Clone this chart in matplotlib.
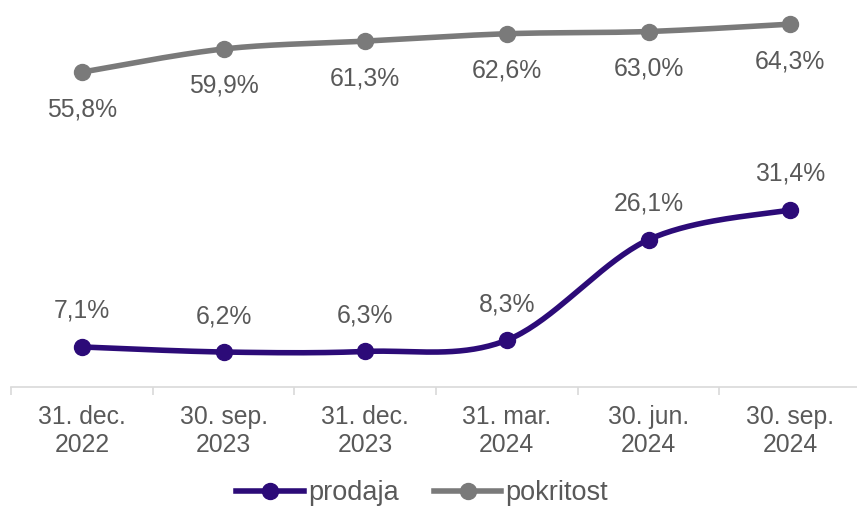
import numpy as np
import matplotlib
matplotlib.use("Agg")
import matplotlib.pyplot as plt
from matplotlib.lines import Line2D

plt.rcParams['font.family'] = ['Liberation Sans', 'DejaVu Sans']

categories = ["31. dec.\n2022", "30. sep.\n2023", "31. dec.\n2023",
              "31. mar.\n2024", "30. jun.\n2024", "30. sep.\n2024"]
prodaja = [7.1, 6.2, 6.3, 8.3, 26.1, 31.4]
pokritost = [55.8, 59.9, 61.3, 62.6, 63.0, 64.3]

C_PRODAJA = "#2c0b78"
C_POKRITOST = "#7a7a7a"
C_TEXT = "#595959"
C_AXIS = "#d9d9d9"
FS = 17.8


def smooth(xs, ys, n=40):
    """Cardinal (Catmull-Rom) Bezier smoothing through every point."""
    pts = np.column_stack([xs, ys]).astype(float)
    out = [pts[0]]
    for i in range(len(pts) - 1):
        p0 = pts[i - 1] if i > 0 else pts[i]
        p1 = pts[i]
        p2 = pts[i + 1]
        p3 = pts[i + 2] if i + 2 < len(pts) else pts[i + 1]
        c1 = p1 + (p2 - p0) / 6.0
        c2 = p2 - (p3 - p1) / 6.0
        t = np.linspace(0, 1, n)[1:, None]
        seg = ((1 - t) ** 3) * p1 + 3 * ((1 - t) ** 2) * t * c1 \
            + 3 * (1 - t) * t ** 2 * c2 + t ** 3 * p2
        out.extend(seg)
    out = np.array(out)
    return out[:, 0], out[:, 1]


fig = plt.figure(figsize=(8.57, 5.09), dpi=100)
ax = fig.add_axes([11 / 857, 1 - 387 / 509, 850 / 857, 395 / 509])

x = np.arange(len(categories))
for vals, col in [(prodaja, C_PRODAJA), (pokritost, C_POKRITOST)]:
    sx, sy = smooth(x, vals)
    ax.plot(sx, sy, color=col, lw=4.0, solid_capstyle='round', zorder=2)
    ax.plot(x, vals, 'o', color=col, ms=11.5, zorder=3)

for xi, v in zip(x, prodaja):
    ax.annotate(f"{v:.1f}%".replace('.', ','), (xi, v), xytext=(0, 36),
                textcoords='offset pixels', ha='center', va='center',
                fontsize=FS, color=C_TEXT)
for xi, v in zip(x, pokritost):
    ax.annotate(f"{v:.1f}%".replace('.', ','), (xi, v), xytext=(0, -37),
                textcoords='offset pixels', ha='center', va='center',
                fontsize=FS, color=C_TEXT)

ax.set_xlim(-0.5, len(categories) - 0.5)
ax.set_ylim(0, 70)
ax.set_yticks([])
for s in ['top', 'right', 'left']:
    ax.spines[s].set_visible(False)
ax.spines['bottom'].set_color(C_AXIS)
ax.spines['bottom'].set_linewidth(1.2)

ax.set_xticks(x)
ax.set_xticklabels(categories, fontsize=FS, color=C_TEXT, linespacing=1.2)
ax.tick_params(axis='x', which='major', length=0, pad=13)
ax.set_xticks(np.arange(-0.5, len(categories)), minor=True)
ax.tick_params(axis='x', which='minor', length=6, color=C_AXIS, width=1.2)

handles = [Line2D([], [], color=C_PRODAJA, lw=4.0, marker='o', ms=11.5),
           Line2D([], [], color=C_POKRITOST, lw=4.0, marker='o', ms=11.5)]
fig.legend(handles, ["prodaja", "pokritost"], loc='center',
           bbox_to_anchor=(0.4925, 1 - 493 / 509), ncol=2, frameon=False,
           prop={'size': 19.5}, labelcolor=C_TEXT, handlelength=2.5,
           handletextpad=0.15, columnspacing=1.3)

fig.savefig("out.png", dpi=100)
